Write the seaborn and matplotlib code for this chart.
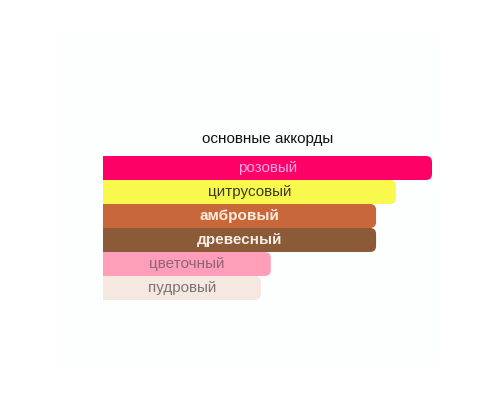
import matplotlib
matplotlib.use('Agg')
import matplotlib.pyplot as plt
from matplotlib.patches import FancyBboxPatch, Rectangle
import seaborn as sns
import pandas as pd

# accords and their relative strength (%)
accords = ['розовый', 'цитрусовый', 'амбровый', 'древесный', 'цветочный', 'пудровый']
values = [100, 89, 83, 83, 51, 48]
bar_colors = ['#FE0066', '#F9F94D', '#C8673A', '#8B5A36', '#FE9EB9', '#F4E8E1']
text_colors = ['#F9A8E4', '#3A3A1E', '#FCEBDD', '#F6EEE4', '#8E6677', '#7C7474']
title = 'основные аккорды'

sns.set_theme(style='white')
plt.rcParams['font.family'] = ['Liberation Sans', 'DejaVu Sans']

df = pd.DataFrame({'accord': accords, 'value': values})

fig = plt.figure(figsize=(5, 4), dpi=100)
fig.patch.set_facecolor('white')

# faint backdrop panel (behind the axes)
fig.patches.append(Rectangle((60 / 500, 35 / 400), 380 / 500, 330 / 400,
                             transform=fig.transFigure, facecolor='#FDFEFE',
                             edgecolor='none', zorder=-5))

ax = fig.add_axes([103 / 500, 100 / 400, 329 / 500, 144 / 400])
ax.set_facecolor('none')
sns.barplot(data=df, x='value', y='accord', hue='accord', palette=bar_colors,
            width=1.0, legend=False, ax=ax, saturation=1)
ax.set_xlim(0, max(values))
ax.set_ylim(len(accords) - 0.5, -0.5)

# replace plain bars with bars rounded on the right end
px_per_x = 329 / max(values)
px_per_y = 24
for patch, col in zip(list(ax.patches), bar_colors):
    x0, y0 = patch.get_x(), patch.get_y()
    w, h = patch.get_width(), patch.get_height()
    patch.remove()
    rnd = 6 / px_per_x
    ax.add_patch(FancyBboxPatch((x0, y0), w, h,
                                boxstyle=f'round,pad=0,rounding_size={rnd}',
                                mutation_aspect=px_per_x / px_per_y,
                                facecolor=col, edgecolor='none', clip_on=False))
    ax.add_patch(Rectangle((x0, y0), w / 2, h, facecolor=col,
                           edgecolor='none', clip_on=False))

for i, (name, v, tc) in enumerate(zip(accords, values, text_colors)):
    ax.text(v / 2, i, name, ha='center', va='center', fontsize=11,
            color=tc, fontweight='bold' if i in (2, 3) else 'normal')

ax.text(max(values) / 2, -0.5 - 17 / 24, title, ha='center', va='center',
        fontsize=11, color='#111111')

ax.set_xlabel('')
ax.set_ylabel('')
ax.set_xticks([])
ax.set_yticks([])
sns.despine(ax=ax, left=True, bottom=True)

fig.savefig('out.png', dpi=100, facecolor='white')
